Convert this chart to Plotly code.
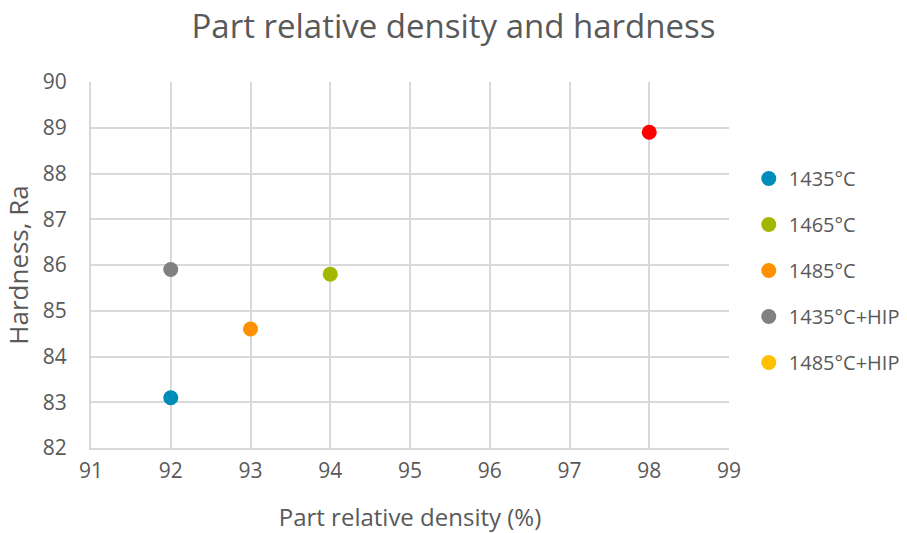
import plotly.graph_objects as go

series_names = ["1435°C", "1465°C", "1485°C", "1435°C+HIP", "1485°C+HIP"]
density = [[92], [94], [93], [92], [98]]
hardness = [[83.1], [85.8], [84.6], [85.9], [88.9]]
legend_colors = ["#008CBA", "#A2B800", "#FF9000", "#808080", "#FFC000"]
point_colors = ["#008CBA", "#A2B800", "#FF9000", "#808080", "#FF0000"]

x_ticks = [91, 92, 93, 94, 95, 96, 97, 98, 99]
y_ticks = [82, 83, 84, 85, 86, 87, 88, 89, 90]

FONT = "Open Sans"
TXT = "#595959"

fig = go.Figure()
for i, name in enumerate(series_names):
    same = legend_colors[i] == point_colors[i]
    fig.add_trace(go.Scatter(
        x=density[i], y=hardness[i], mode="markers", name=name,
        legendgroup=name, showlegend=same,
        marker=dict(size=15, color=point_colors[i]),
    ))
    if not same:
        fig.add_trace(go.Scatter(
            x=[None], y=[None], mode="markers", name=name,
            legendgroup=name, showlegend=True,
            marker=dict(size=15, color=legend_colors[i]),
        ))

fig.update_layout(
    width=907, height=533,
    margin=dict(l=91, r=178, t=82, b=85, autoexpand=False),
    paper_bgcolor="white", plot_bgcolor="white",
    font=dict(family=FONT, color=TXT, size=20),
    title=dict(text="Part relative density and hardness", x=0.5, xref="container",
               xanchor="center", y=0.95, yanchor="middle",
               font=dict(size=33, color=TXT, family=FONT)),
    legend=dict(x=1.031, y=0.485, xanchor="left", yanchor="middle",
                tracegroupgap=17, font=dict(size=20, color=TXT),
                itemsizing="trace", bgcolor="rgba(0,0,0,0)"),
    showlegend=True,
)
fig.update_xaxes(range=[91, 99], tickvals=x_ticks, showgrid=True,
                 gridcolor="#D9D9D9", gridwidth=2, zeroline=False,
                 showline=True, linecolor="#D9D9D9", linewidth=2,
                 ticks="", ticklabelstandoff=3, tickfont=dict(size=21, color=TXT),
                 title=dict(text="Part relative density (%)", font=dict(size=24, color=TXT), standoff=26))
fig.update_yaxes(range=[82, 90], tickvals=y_ticks, showgrid=True,
                 gridcolor="#D9D9D9", gridwidth=2, zeroline=False,
                 showline=True, linecolor="#D9D9D9", linewidth=2,
                 ticks="", ticklabelstandoff=18, tickfont=dict(size=21, color=TXT),
                 title=dict(text="Hardness, Ra", font=dict(size=26, color=TXT), standoff=8))

fig.write_html("out.html")
